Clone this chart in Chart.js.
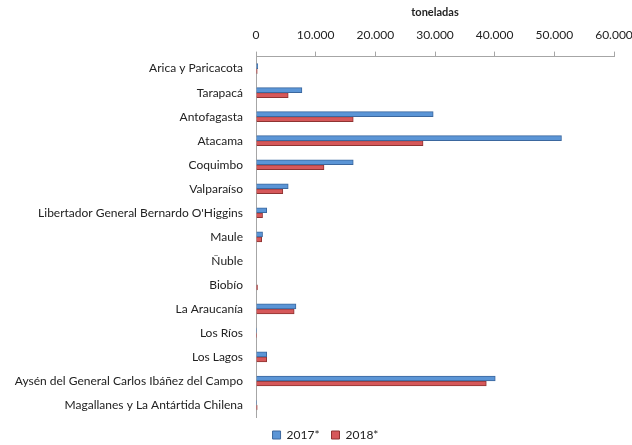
<!DOCTYPE html>
<html>
<head>
<meta charset="utf-8">
<script src="https://cdn.jsdelivr.net/npm/chart.js@4"></script>
<style>
  html, body { margin: 0; padding: 0; background: #fff; }
  #wrap { width: 632px; height: 445px; }
</style>
</head>
<body>
<div id="wrap"><canvas id="barChart"></canvas></div>
<script>
var regiones = ['Arica y Paricacota', 'Tarapacá', 'Antofagasta', 'Atacama', 'Coquimbo', 'Valparaíso',
    'Libertador General Bernardo O\'Higgins', 'Maule', 'Ñuble', 'Biobío', 'La Araucanía', 'Los Ríos',
    'Los Lagos', 'Aysén del General Carlos Ibáñez del Campo', 'Magallanes y La Antártida Chilena'];
var valores2017 = [300, 7700, 29700, 51200, 16300, 5400, 1800, 1100, 0, 0, 6700, 100, 1800, 40100, 100];
var valores2018 = [200, 5400, 16300, 28000, 11400, 4500, 1100, 950, 0, 250, 6400, 100, 1800, 38600, 200];
var ticksX = [0, 10000, 20000, 30000, 40000, 50000, 60000];

function miles(v) {
    return String(v).replace(/\B(?=(\d{3})+(?!\d))/g, '.');
}

// nudge the legend a bit to the right, like the original
var legendShift = {
    id: 'legendShift',
    afterLayout: function (chart) {
        chart.legend.left += 8;
        chart.legend.right += 8;
    }
};

Chart.defaults.font.family = 'Lato';
Chart.defaults.font.size = 12;
Chart.defaults.color = '#222';

var ctx1 = document.getElementById('barChart').getContext('2d');
var barChart = new Chart(ctx1, {
    type: 'bar',
    data: {
        labels: regiones,
        datasets: [{
            label: '2017*',
            data: valores2017,
            backgroundColor: '#5b95d6',
            borderColor: '#3b679e',
            borderWidth: 1,
            borderSkipped: 'start',
            barThickness: 5
        }, {
            label: '2018*',
            data: valores2018,
            backgroundColor: '#d6585a',
            borderColor: '#8f3432',
            borderWidth: 1,
            borderSkipped: 'start',
            barThickness: 5
        }]
    },
    plugins: [legendShift],
    options: {
        indexAxis: 'y',
        responsive: true,
        maintainAspectRatio: false,
        animation: false,
        layout: { padding: { top: 6, right: 3, left: 6, bottom: -6 } },
        scales: {
            x: {
                position: 'top',
                min: 0,
                max: 60000,
                afterBuildTicks: function (axis) {
                    axis.ticks = ticksX.map(function (v) { return { value: v }; });
                },
                afterFit: function (axis) { axis.paddingRight = 18; },
                ticks: {
                    padding: 9,
                    maxRotation: 0,
                    callback: function (v) { return miles(v); }
                },
                grid: {
                    drawOnChartArea: false,
                    drawTicks: true,
                    tickLength: 5,
                    color: '#a6a6a6'
                },
                border: { color: '#a6a6a6' },
                title: {
                    display: true,
                    text: 'toneladas',
                    font: { weight: 'bold', size: 11 },
                    padding: { top: 0, bottom: 0 }
                }
            },
            y: {
                afterFit: function (axis) { axis.width = 250; },
                ticks: { padding: 5 },
                grid: { display: false },
                border: { color: '#a6a6a6' }
            }
        },
        plugins: {
            legend: {
                position: 'bottom',
                labels: {
                    boxWidth: 8,
                    boxHeight: 8,
                    padding: 12,
                    font: { size: 12 }
                }
            },
            tooltip: { enabled: false }
        }
    }
});
</script>
</body>
</html>
